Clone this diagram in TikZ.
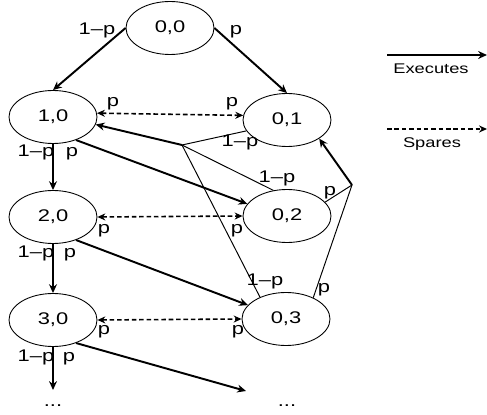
\documentclass[tikz,border=0pt]{standalone}
\usepackage{fontspec}
\setmainfont{Liberation Sans}
\usetikzlibrary{shapes.geometric,arrows.meta}
\newcommand{\wtxt}[1]{\scalebox{1.3}[1]{#1}}

\begin{document}
\begin{tikzpicture}[x=0.02cm,y=-0.02cm]
	\tikzstyle{every node}+=[inner sep=0pt, font=\fontsize{9.6}{11}\selectfont]
	\tikzstyle{state}=[draw, ellipse, minimum width=1.76cm, minimum height=1.06cm, line width=0.5pt]
	\tikzstyle{exec}=[line width=1.1pt, -{Stealth[length=5pt,width=4.5pt]}]
	\tikzstyle{spare}=[line width=0.9pt, dash pattern=on 2.6pt off 1.6pt, {Stealth[length=4.5pt,width=4pt]}-{Stealth[length=4.5pt,width=4pt]}]
	\tikzstyle{branch}=[line width=0.55pt]
	\tikzstyle{lbl}=[anchor=base]
	\useasboundingbox (0,0) rectangle (487,415);
	\node[state] (n00) at (170,28) {\wtxt{0,0}};
	\node[state] (n10) at (53,117) {\wtxt{1,0}};
	\node[state] (n01) at (287,120) {\wtxt{0,1}};
	\node[state] (n20) at (53,217) {\wtxt{2,0}};
	\node[state] (n02) at (287,216) {\wtxt{0,2}};
	\node[state] (n30) at (53,320) {\wtxt{3,0}};
	\node[state] (n03) at (286,319) {\wtxt{0,3}};
	\node[lbl] (dl) at (53,406) {\wtxt{...}};
	\node[lbl] (dr) at (287,406) {\wtxt{...}};
	\coordinate (jl) at (182,145);
	\coordinate (jr) at (352,185);
	\coordinate (el) at (53,390);
	\coordinate (er) at (246,391);
	\draw[exec] (n00.west) -- (n10.north);
	\draw[exec] (n00.east) -- (n01.north);
	\draw[spare] (n10.5) -- (n01.174);
	\draw[exec] (n10.south) -- (n20.north);
	\draw[exec] (n10.-45) -- (n02.163);
	\draw[branch] (n01.195) -- (jl);
	\draw[branch] (n02.118) -- (jl);
	\draw[branch] (n03.140) -- (jl);
	\draw[exec] (jl) -- (n10.-10);
	\draw[branch] (n02.20) -- (jr);
	\draw[branch] (n03.38) -- (jr);
	\draw[exec] (jr) -- (n01.-30);
	\draw[spare] (n20.east) -- (n02.west);
	\draw[exec] (n20.south) -- (n30.north);
	\draw[exec] (n20.-45) -- (n03.160);
	\draw[spare] (n30.east) -- (n03.west);
	\draw[exec] (n30.south) -- (el);
	\draw[exec] (n30.-45) -- (er);
	\node[lbl] (q1) at (97,35) {\wtxt{1–p}};
	\node[lbl] (q2) at (236,35) {\wtxt{p}};
	\node[lbl] (q3) at (113,107) {\wtxt{p}};
	\node[lbl] (q4) at (232,107) {\wtxt{p}};
	\node[lbl] (q5) at (240,147) {\wtxt{1–p}};
	\node[lbl] (q6) at (36,157) {\wtxt{1–p}};
	\node[lbl] (q7) at (72,157) {\wtxt{p}};
	\node[lbl] (q8) at (277,183) {\wtxt{1–p}};
	\node[lbl] (q9) at (330,196) {\wtxt{p}};
	\node[lbl] (q10) at (104,234) {\wtxt{p}};
	\node[lbl] (q11) at (237,234) {\wtxt{p}};
	\node[lbl] (q12) at (36,258) {\wtxt{1–p}};
	\node[lbl] (q13) at (70,258) {\wtxt{p}};
	\node[lbl] (q14) at (265,286) {\wtxt{1–p}};
	\node[lbl] (q15) at (324,293) {\wtxt{p}};
	\node[lbl] (q16) at (104,335) {\wtxt{p}};
	\node[lbl] (q17) at (238,335) {\wtxt{p}};
	\node[lbl] (q18) at (36,361) {\wtxt{1–p}};
	\node[lbl] (q19) at (69,361) {\wtxt{p}};
	\coordinate (ea) at (387,55);
	\coordinate (eb) at (487,55);
	\coordinate (sa) at (387,129);
	\coordinate (sb) at (487,129);
	\draw[exec] (ea) -- (eb);
	\draw[line width=0.9pt, dash pattern=on 2.6pt off 1.6pt, -{Stealth[length=4.5pt,width=4pt]}] (sa) -- (sb);
	\node[lbl, font=\fontsize{8}{9}\selectfont] (lexec) at (431,74) {\wtxt{Executes}};
	\node[lbl, font=\fontsize{8}{9}\selectfont] (lspare) at (432,148) {\wtxt{Spares}};
\end{tikzpicture}
\end{document}
